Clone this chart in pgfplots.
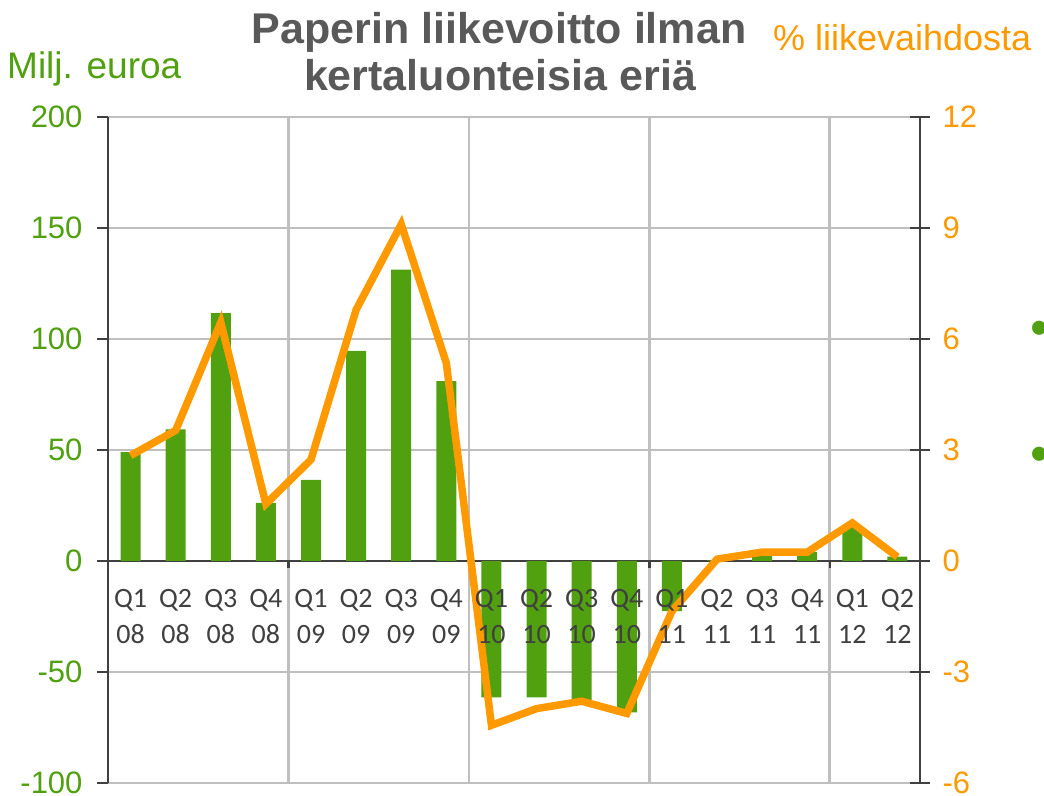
\documentclass[border=0pt]{standalone}
\usepackage{pgfplots}
\pgfplotsset{compat=1.18}
\usepackage{fontspec}
\setmainfont{Liberation Sans}
\newfontfamily\calfont{Carlito}
\definecolor{bargreen}{RGB}{80,160,16}
\definecolor{lineorange}{RGB}{255,153,0}
\definecolor{gridgrey}{RGB}{191,191,191}
\definecolor{axisgrey}{RGB}{64,64,64}
\definecolor{titlegrey}{RGB}{89,89,89}
\pgfplotsset{
  layers/mylayers/.define layer set={axis background,axis grid,axis ticks,axis lines,pre main,main,axis tick labels,axis descriptions,axis foreground}{/pgfplots/layers/standard},
}
\begin{document}
\begin{tikzpicture}
\begin{axis}[
  set layers=mylayers,
  at={(108bp,13bp)}, anchor=south west,
  scale only axis, width=812bp, height=666bp,
  xmin=-0.5, xmax=17.5, ymin=-100, ymax=200,
  axis x line=middle, axis y line=left,
  axis line style={-},
  x axis line style={-, axisgrey, line width=2.6bp},
  y axis line style={-, axisgrey, line width=2.6bp},
  xtick={0,...,17},
  xticklabels={{Q1\\08},{Q2\\08},{Q3\\08},{Q4\\08},{Q1\\09},{Q2\\09},{Q3\\09},{Q4\\09},{Q1\\10},{Q2\\10},{Q3\\10},{Q4\\10},{Q1\\11},{Q2\\11},{Q3\\11},{Q4\\11},{Q1\\12},{Q2\\12}},
  minor xtick={3.5,7.5,11.5,15.5},
  ytick={-100,-50,...,200},
  xminorgrids, ymajorgrids,
  major grid style={gridgrey, line width=2.6bp},
  minor grid style={gridgrey, line width=2.6bp},
  major x tick style={draw=none},
  minor x tick style={axisgrey, line width=2.4bp},
  major y tick style={axisgrey, line width=2.4bp},
  tick align=outside,
  major tick length=11bp, minor tick length=7bp,
  xticklabel style={font=\calfont\fontsize{28bp}{36bp}\selectfont, text=axisgrey, align=center, yshift=-14bp},
  yticklabel style={font=\fontsize{31bp}{36bp}\selectfont, text=bargreen, xshift=-11bp},
  /pgf/number format/assume math mode=true,
]
\addplot[ybar, bar width=20bp, fill=bargreen, draw=none] coordinates {
(0,49) (1,59.3) (2,111.6) (3,26.2) (4,36.5) (5,94.7) (6,131.2) (7,81)
(8,-61.4) (9,-61.4) (10,-63.3) (11,-68.2) (12,-22.6) (13,0.3) (14,3) (15,4) (16,15.8) (17,2)
};
\end{axis}
\begin{axis}[
  set layers=mylayers,
  at={(108bp,13bp)}, anchor=south west,
  scale only axis, width=812bp, height=666bp,
  xmin=-0.5, xmax=17.5, ymin=-6, ymax=12,
  axis x line=none, axis y line*=right,
  axis line style={-},
  y axis line style={-, axisgrey, line width=2.6bp},
  ytick={-6,-3,...,12},
  major y tick style={axisgrey, line width=2.4bp},
  tick align=center, major tick length=20bp,
  yticklabel style={font=\fontsize{31bp}{36bp}\selectfont, text=lineorange, xshift=9bp},
  /pgf/number format/assume math mode=true,
]
\addplot[lineorange, line width=7.5bp] coordinates {
(0,2.85) (1,3.53) (2,6.45) (3,1.54) (4,2.74) (5,6.79) (6,9.1) (7,5.35)
(8,-4.44) (9,-3.99) (10,-3.79) (11,-4.12) (12,-1.36) (13,0.05) (14,0.24) (15,0.24) (16,1.03) (17,0.11)
};
\end{axis}
\node[anchor=base, font=\bfseries\fontsize{43bp}{47bp}\selectfont, text=titlegrey, inner sep=0pt] at (499bp,752bp) {Paperin liikevoitto ilman};
\node[anchor=base, font=\bfseries\fontsize{43bp}{47bp}\selectfont, text=titlegrey, inner sep=0pt] at (500bp,705bp) {kertaluonteisia eriä};
\node[anchor=base west, font=\fontsize{37bp}{40bp}\selectfont, text=bargreen, inner sep=0pt] at (7bp,717bp) {Milj. euroa};
\node[anchor=base west, font=\fontsize{36bp}{40bp}\selectfont, text=lineorange, inner sep=0pt] at (773bp,745bp) {\% liikevaihdosta};
\node[anchor=base, font=\fontsize{52bp}{52bp}\selectfont, text=bargreen, inner sep=0pt] at (1040bp,450.7bp) {•};
\node[anchor=base, font=\fontsize{52bp}{52bp}\selectfont, text=bargreen, inner sep=0pt] at (1040bp,324.7bp) {•};
\pgfresetboundingbox
\path[use as bounding box] (0,0) rectangle (1044bp,796bp);
\end{tikzpicture}
\end{document}
